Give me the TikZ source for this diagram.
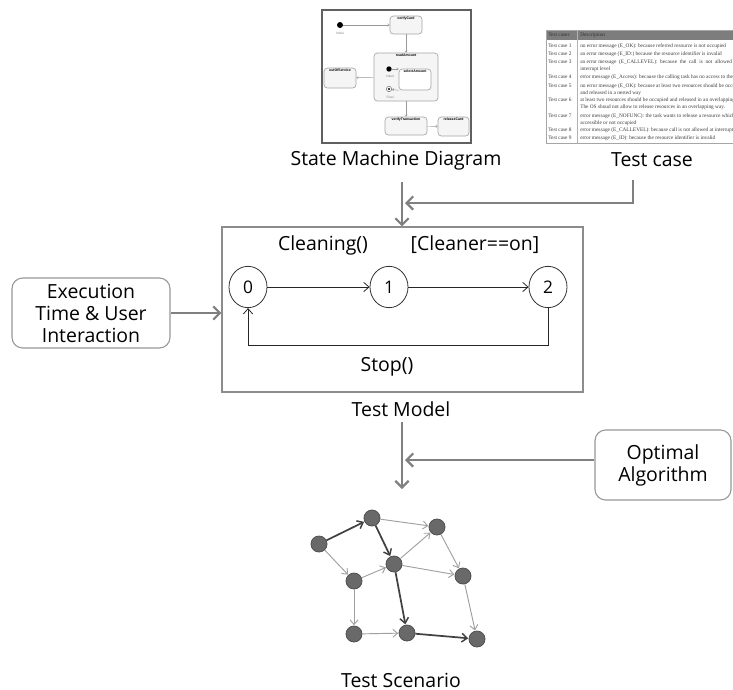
\documentclass[tikz,border=0pt]{standalone}
\usepackage{fontspec}
\setmainfont{Open Sans}
\newfontfamily\tabfont{Liberation Serif}
\newfontfamily\smfont{Liberation Sans}
\usetikzlibrary{arrows.meta,shapes.geometric}
\definecolor{arrgray}{RGB}{128,128,128}
\definecolor{boxgray}{RGB}{150,150,150}
\definecolor{gnode}{RGB}{105,105,105}
\definecolor{gnodeb}{RGB}{80,80,80}
\definecolor{gedge}{RGB}{160,160,160}
\definecolor{gedged}{RGB}{65,65,65}
\definecolor{hdr}{RGB}{125,125,125}
\definecolor{tabtxt}{RGB}{60,60,60}
\begin{document}
\begin{tikzpicture}[x=0.75pt,y=-0.75pt,
  lbl/.style={font=\fontsize{14.6}{17}\selectfont, inner sep=0pt},
  bigarrow/.style={draw=arrgray, line width=1.9pt, -{Straight Barb[length=5pt,width=10pt,line width=1.6pt]}},
  infobox/.style={draw=boxgray, rounded corners=8pt, line width=0.8pt, align=center,
     font=\fontsize{14.6}{16.5}\selectfont},
  stnode/.style={draw=black!80, ellipse, line width=0.6pt, minimum width=28.5pt, minimum height=31pt, inner sep=0pt,
     font=\fontsize{13}{14}\selectfont},
  tr/.style={draw=black!85, line width=0.6pt, -{Straight Barb[length=4pt,width=7pt,line width=0.6pt]}},
  smbox/.style={draw=gray!70, fill=gray!8, rounded corners=2.5pt, line width=0.5pt, inner sep=0pt},
  smlab/.style={font=\smfont\bfseries\fontsize{2.6}{3}\selectfont, inner sep=0.6pt, anchor=north},
  smtxt/.style={font=\smfont\fontsize{2.4}{3}\selectfont, text=gray, inner sep=0pt},
  smarr/.style={draw=gray!80, line width=0.35pt, -{Straight Barb[length=1.2pt,width=2pt,line width=0.35pt]}},
  tabcell/.style={font=\tabfont\fontsize{4.0}{4.6}\selectfont, text=tabtxt, inner sep=0pt, anchor=west},
  gn/.style={circle, fill=gnode, draw=gnodeb, line width=0.6pt, minimum size=12pt, inner sep=0pt},
  ge/.style={draw=gedge, line width=0.7pt, -{Straight Barb[length=3.5pt,width=6pt,line width=0.7pt]}, shorten >=0.3pt},
  ged/.style={draw=gedged, line width=1.3pt, -{Straight Barb[length=4pt,width=6.5pt,line width=1.1pt]}, shorten >=0.3pt}
]
\useasboundingbox (0,0) rectangle (733,690);

% ---------------- State machine screenshot ----------------
\draw[draw=gray!75!black, line width=1.1pt, fill=white] (322,10) rectangle (471,143);
\node[circle, fill=black, inner sep=0pt, minimum size=4.5pt] (sminit) at (340,25) {};
\node[smtxt] (sminitl) at (340,33) {Initial};
\node[smbox, minimum width=24pt, minimum height=13.5pt, label={[smlab, name=vcl]north:verifyCard}] (vc) at (406,25) {};
\node[smbox, minimum width=48pt, minimum height=36pt, label={[smlab, name=ral]north:readAmount}] (ra) at (406,77) {};
\node[smbox, minimum width=24pt, minimum height=15pt, label={[smlab, name=ool]north:outOfService}] (oos) at (340,78) {};
\node[smbox, fill=white, minimum width=24pt, minimum height=15.75pt, label={[smlab, name=sal]north:selectAmount}] (sa) at (415,79.5) {};
\node[circle, fill=black, inner sep=0pt, minimum size=4pt] (smin2) at (389,69) {};
\node[smtxt] (smin2l) at (390,76) {Initial};
\node[circle, draw=gray!80!black, fill=white, line width=0.4pt, inner sep=0pt, minimum size=4pt] (smfin) at (389,89) {};
\node[circle, fill=black, inner sep=0pt, minimum size=1.6pt] (smfind) at (smfin) {};
\node[smtxt] (smfinl) at (390,97) {Final};
\node[smbox, minimum width=31.5pt, minimum height=13.5pt, label={[smlab, name=vtl]north:verifyTransaction}] (vt) at (406,126) {};
\node[smbox, minimum width=23.25pt, minimum height=14.25pt, label={[smlab, name=rcl]north:releaseCard}] (rc) at (453.5,126.5) {};
\draw[smarr] (sminit) -- (vc);
\draw[smarr] (vc) -- (ra);
\draw[smarr] (ra) -- (oos);
\draw[smarr] (ra) -- (vt);
\draw[smarr] (vt) -- (rc);
\draw[smarr] (smin2) -- (sa.west |- smin2);
\draw[smarr] (sa.south west) -- (smfin);

% ---------------- Test case table ----------------
\begin{scope}
\clip (540,25) rectangle (733,150);
\fill[hdr] (546,30) rectangle (760,40);
\draw[draw=gray!70, line width=0.6pt] (546,30) rectangle (760,143);
\draw[draw=gray!60, line width=0.4pt] (577,30) -- (577,143);
\node[tabcell, text=black!80] (th1) at (548,35) {Test cases};
\node[tabcell, text=black!80] (th2) at (580,35) {Description};
\foreach \n/\y in {1/46,2/54,3/62,4/77,5/86,6/100,7/116,8/130,9/138}{
  \node[tabcell] (tc\n) at (548,\y) {Test case \n};
}
\node[tabcell] (d1) at (580,46) {no error message (E\_OK): because referred resource is not occupied};
\node[tabcell] (d2) at (580,54) {an error message (E\_ID:) because the resource identifier is invalid};
\node[tabcell] (d3) at (580,62) {an error message \ (E\_CALLEVEL): \ because \ the \ call \ is \ not \ allowed \ at};
\node[tabcell] (d3b) at (580,69) {interrupt level};
\node[tabcell] (d4) at (580,77) {error message (E\_Access): because the calling task has no access to the resource};
\node[tabcell] (d5) at (580,86) {no error message (E\_OK): because at least two resources should be occupied};
\node[tabcell] (d5b) at (580,93) {and released in a nested way};
\node[tabcell] (d6) at (580,100) {at least two resources should be occupied and released in an overlapping way.};
\node[tabcell] (d6b) at (580,107) {The OS shoud not allow to release resources in an overlapping way.};
\node[tabcell] (d7) at (580,116) {error message (E\_NOFUNC): the task wants to release a resource which is not};
\node[tabcell] (d7b) at (580,123) {accessible or not occupied};
\node[tabcell] (d8) at (580,130) {error message (E\_CALLEVEL): because call is not allowed at interrupt level};
\node[tabcell] (d9) at (580,138) {error message (E\_ID): because the resource identifier is invalid};
\end{scope}

% ---------------- Labels ----------------
\node[lbl] (smdl) at (396,160) {State Machine Diagram};
\node[lbl] (tcl) at (652,160) {Test case};

% ---------------- Test model ----------------
\node[draw=black!45, line width=0.8pt, minimum width=270.75pt, minimum height=123.75pt, inner sep=0pt] (tm) at (402.5,309.5) {};
\node[stnode] (s0) at (248,287) {0};
\node[stnode] (s1) at (389,287) {1};
\node[stnode] (s2) at (548,287) {2};
\draw[tr] (s0) -- (s1);
\draw[tr] (s1) -- (s2);
\coordinate (lp) at (548,345);
\draw[tr] (s2.south) -- (lp) -| (s0.south);
\node[lbl] (cl) at (323,245) {Cleaning()};
\node[lbl] (cn) at (475,245) {[Cleaner==on]};
\node[lbl] (st) at (387,367) {Stop()};
\node[lbl] (tml) at (401,409) {Test Model};

% arrows into test model
\coordinate (a1) at (402,182);
\coordinate (j1) at (405,203);
\coordinate (tcs) at (633,180);
\draw[bigarrow] (a1) -- (a1 |- tm.north);
\draw[bigarrow] (tcs) |- (j1);

\node[infobox, minimum width=118.5pt, minimum height=52.5pt] (ex) at (91,313) {Execution\\Time \& User\\Interaction};
\draw[bigarrow] (ex.east) -- (ex.east -| tm.west);

% ---------------- Optimal algorithm ----------------
\node[infobox, minimum width=102pt, minimum height=52.5pt] (opt) at (663,465) {Optimal\\Algorithm};
\coordinate (a2) at (402,422);
\coordinate (a2e) at (402,489);
\coordinate (j2) at (405,460);
\draw[bigarrow] (a2) -- (a2e);
\draw[bigarrow] (opt.west |- j2) -- (j2);

% ---------------- Test scenario graph ----------------
\node[gn] (A) at (319,544) {};
\node[gn] (B) at (372,518) {};
\node[gn] (C) at (437,527) {};
\node[gn] (D) at (394,564) {};
\node[gn] (E) at (354,581) {};
\node[gn] (F) at (463,576) {};
\node[gn] (G) at (354,634) {};
\node[gn] (H) at (407,633) {};
\node[gn] (I) at (477,639) {};
\draw[ge] (B) -- (C);
\draw[ge] (A) -- (E);
\draw[ge] (E) -- (D);
\draw[ge] (D) -- (C);
\draw[ge] (D) -- (F);
\draw[ge] (C) -- (F);
\draw[ge] (E) -- (G);
\draw[ge] (G) -- (H);
\draw[ge] (F) -- (I);
\draw[ged] (A) -- (B);
\draw[ged] (B) -- (D);
\draw[ged] (D) -- (H);
\draw[ged] (H) -- (I);
\node[lbl] (tsl) at (401,680) {Test Scenario};
\end{tikzpicture}
\end{document}
